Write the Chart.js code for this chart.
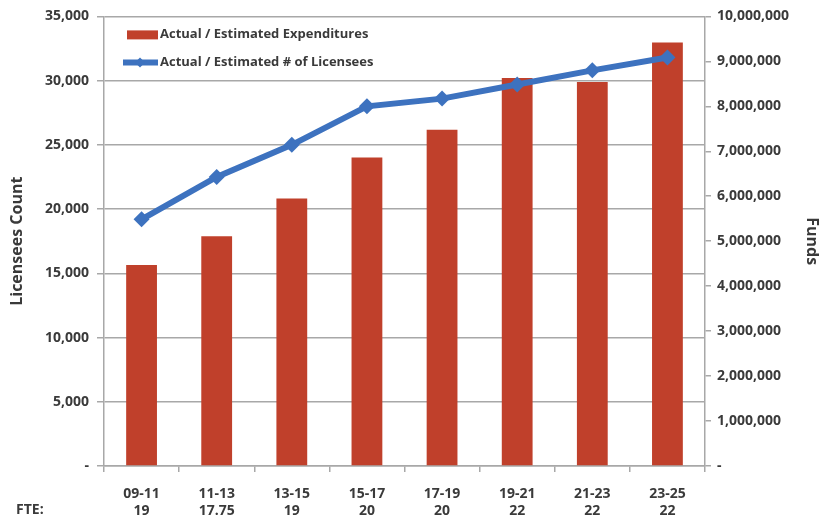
<!doctype html>
<html lang="en">
<head>
    <meta charset="utf-8">
    <title>Licensees and Expenditures</title>
    <script src="https://cdn.jsdelivr.net/npm/chart.js@4.4.0/dist/chart.umd.min.js"></script>
</head>
<style>
    body{
        margin: 0;
        background: #fff;
    }
    #wrap{
        width: 821px;
        height: 523px;
        position: relative;
    }
</style>
<body>
    <div id="wrap">
        <canvas id="myChart" width="821" height="523"></canvas>
    </div>
<script>
    let periods = ["09-11", "11-13", "13-15", "15-17", "17-19", "19-21", "21-23", "23-25"];
    let fte = ["19", "17.75", "19", "20", "20", "22", "22", "22"];
    let expenditures = [4470000, 5110000, 5950000, 6860000, 7480000, 8630000, 8540000, 9420000];
    let licensees = [19200, 22500, 25000, 28000, 28600, 29700, 30800, 31800];
    let leftTicks = [0, 5000, 10000, 15000, 20000, 25000, 30000, 35000];
    let rightTicks = [0, 1000000, 2000000, 3000000, 4000000, 5000000, 6000000, 7000000, 8000000, 9000000, 10000000];

    let barColor = "#c0402b";
    let lineColor = "#3d72bf";
    let textColor = "#3a3a3a";
    let gridColor = "#a8a8a8";
    let fontName = "'Open Sans', sans-serif";

    let fmt = (v) => v === 0 ? "-" : v.toLocaleString("en-US");

    let legendBox = {
        id: "legendBox",
        afterDraw: (chart) => {
            let ctx = chart.ctx;
            let a = chart.chartArea;
            ctx.save();
            ctx.font = "bold 13px " + fontName;
            ctx.textBaseline = "middle";

            ctx.fillStyle = barColor;
            ctx.fillRect(a.left + 23, a.top + 14, 31, 9);
            ctx.fillStyle = textColor;
            ctx.fillText("Actual / Estimated Expenditures", a.left + 56, a.top + 18);

            ctx.strokeStyle = lineColor;
            ctx.lineWidth = 6;
            ctx.beginPath();
            ctx.moveTo(a.left + 19, a.top + 46);
            ctx.lineTo(a.left + 54, a.top + 46);
            ctx.stroke();
            ctx.fillStyle = lineColor;
            ctx.beginPath();
            ctx.moveTo(a.left + 36, a.top + 41);
            ctx.lineTo(a.left + 41, a.top + 46);
            ctx.lineTo(a.left + 36, a.top + 51);
            ctx.lineTo(a.left + 31, a.top + 46);
            ctx.closePath();
            ctx.fill();
            ctx.fillStyle = textColor;
            ctx.fillText("Actual / Estimated # of Licensees", a.left + 56, a.top + 46);

            ctx.font = "bold 14px " + fontName;
            let xs = chart.scales.x;
            ctx.fillText("FTE:", 16, xs.top + 44);
            ctx.restore();
        }
    };

    let ctx = document.getElementById("myChart");
    let myChart = new Chart(ctx, {
        type: "bar",
        data: {
            labels: periods.map((p, i) => [p, fte[i]]),
            datasets: [{
                type: "line",
                label: "Actual / Estimated # of Licensees",
                data: licensees,
                yAxisID: "y",
                borderColor: lineColor,
                backgroundColor: lineColor,
                borderWidth: 6,
                pointStyle: "rectRot",
                pointRadius: 8,
                pointBorderWidth: 0,
                tension: 0,
                order: 0
            }, {
                type: "bar",
                label: "Actual / Estimated Expenditures",
                data: expenditures,
                yAxisID: "y1",
                backgroundColor: barColor,
                categoryPercentage: 1,
                barPercentage: 0.41,
                order: 1
            }]
        },
        options: {
            responsive: false,
            animation: false,
            layout: {
                padding: {top: 3, left: 0, right: 0, bottom: 0}
            },
            plugins: {
                legend: {display: false},
                tooltip: {enabled: false}
            },
            scales: {
                x: {
                    offset: true,
                    grid: {
                        offset: true,
                        drawOnChartArea: false,
                        tickLength: 6,
                        color: gridColor,
                        lineWidth: 1.5
                    },
                    border: {color: gridColor, width: 1.5},
                    ticks: {
                        color: textColor,
                        font: {family: fontName, size: 14, weight: "bold", lineHeight: 1.25},
                        maxRotation: 0,
                        padding: 13
                    },
                    afterFit: (scale) => { scale.height = 57; }
                },
                y: {
                    position: "left",
                    min: 0,
                    max: 35000,
                    afterBuildTicks: (scale) => { scale.ticks = leftTicks.map(v => ({value: v})); },
                    grid: {
                        color: gridColor,
                        lineWidth: 1.5,
                        tickLength: 7
                    },
                    border: {color: gridColor, width: 1.5},
                    ticks: {
                        color: textColor,
                        font: {family: fontName, size: 14, weight: "bold"},
                        padding: 8,
                        callback: (v) => fmt(v)
                    },
                    title: {
                        display: true,
                        text: "Licensees Count",
                        color: textColor,
                        font: {family: fontName, size: 16, weight: "bold"},
                        padding: {top: 8, bottom: 0}
                    },
                    afterFit: (scale) => { scale.width = 104; }
                },
                y1: {
                    position: "right",
                    min: 0,
                    max: 10000000,
                    afterBuildTicks: (scale) => { scale.ticks = rightTicks.map(v => ({value: v})); },
                    grid: {
                        drawOnChartArea: false,
                        color: gridColor,
                        lineWidth: 1.5,
                        tickLength: 6
                    },
                    border: {color: gridColor, width: 1.5},
                    ticks: {
                        color: textColor,
                        font: {family: fontName, size: 14, weight: "bold"},
                        padding: 6,
                        callback: (v) => fmt(v)
                    },
                    title: {
                        display: true,
                        text: "Funds",
                        color: textColor,
                        font: {family: fontName, size: 16, weight: "bold"},
                        padding: {top: 0, bottom: 0}
                    },
                    afterFit: (scale) => { scale.width = 116; }
                }
            }
        },
        plugins: [legendBox]
    });
</script>
</body>
</html>
